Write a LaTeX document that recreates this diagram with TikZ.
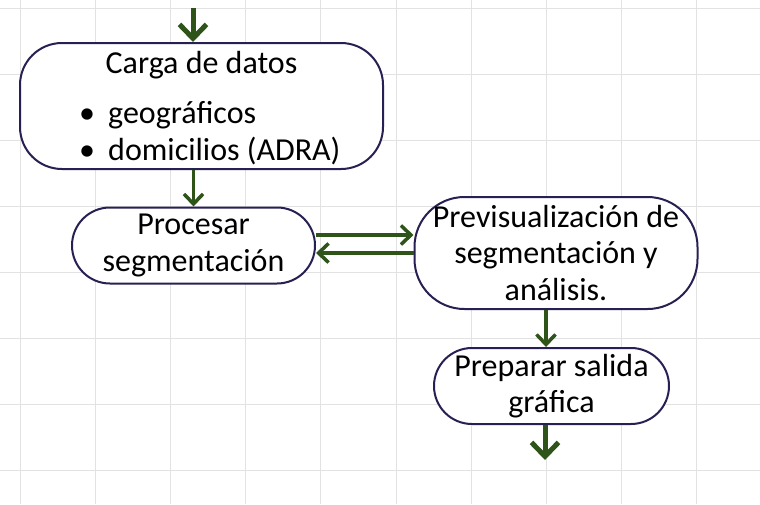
\documentclass[tikz,border=0pt]{standalone}
\usepackage{fontspec}
\setmainfont{Carlito}
\usetikzlibrary{arrows.meta}
\definecolor{verdeflecha}{RGB}{46,84,26}
\definecolor{bordecaja}{RGB}{38,33,82}
\definecolor{rejilla}{RGB}{226,226,226}

\begin{document}
\begin{tikzpicture}[x=1pt,y=-1pt,
  caja/.style={draw=bordecaja, line width=2pt, fill=white, align=center, inner sep=0pt,
    font=\fontsize{32}{36.5}\selectfont},
  texto/.style={inner sep=0pt, font=\fontsize{32}{36.5}\selectfont},
  flecha/.style={draw=verdeflecha, line width=3.5pt, -{Straight Barb[length=10pt,width=19pt]}},
  flechagruesa/.style={draw=verdeflecha, line width=5pt, -{Straight Barb[length=14pt,width=27pt]}}]
  \useasboundingbox (0,0) rectangle (760,504);
  \fill[white] (0,0) rectangle (760,504);
  % rejilla de fondo
  \foreach \i in {0,...,9}
    \draw[rejilla, line width=1pt] ({20+75.2*\i},0) -- ++(0,504);
  \foreach \j in {0,...,7}
    \draw[rejilla, line width=1pt] (0,{8+66*\j}) -- ++(760,0);

  \node[caja, minimum width=363pt, minimum height=126pt, rounded corners=42pt] (carga) at (201.5,106) {};
  \node[texto, anchor=base] (titulo) at (201.5,73) {Carga de datos};
  \node[texto, anchor=base] (vineta1) at (87,123) {\textbullet};
  \node[texto, anchor=base west] (geo) at (108,123) {geográficos};
  \node[texto, anchor=base] (vineta2) at (87,160) {\textbullet};
  \node[texto, anchor=base west] (domi) at (108,160) {domicilios (ADRA)};

  \node[caja, minimum width=243pt, minimum height=76pt, rounded corners=38pt] (proceso) at (193.5,245.5) {Procesar\\segmentación};
  \node[caja, minimum width=283pt, minimum height=112pt, rounded corners=50pt] (previa) at (556,253) {Previsualización de\\segmentación y\\análisis.};
  \node[caja, minimum width=235pt, minimum height=76pt, rounded corners=38pt] (salida) at (551.5,386) {Preparar salida\\gráfica};

  % flechas
  \coordinate (inicio) at (193,8);
  \draw[flechagruesa] (inicio) -- (inicio |- carga.north);
  \draw[flecha] (proceso.north |- carga.south) -- (proceso.north);
  \draw[flecha] ([yshift=10.5pt]proceso.east) -- ([yshift=10.5pt]proceso.east -| previa.west);
  \draw[flecha] (previa.west) -- (previa.west -| proceso.east);
  \coordinate (bajada) at (546,0);
  \draw[flecha] (bajada |- previa.south) -- (bajada |- salida.north);
  \coordinate (fin) at (545,460);
  \draw[flechagruesa] (fin |- salida.south) -- (fin);
\end{tikzpicture}
\end{document}
